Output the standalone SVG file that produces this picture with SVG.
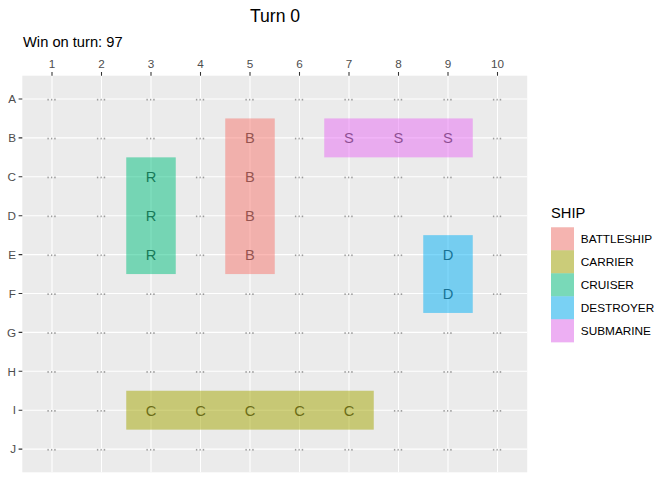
<svg xmlns="http://www.w3.org/2000/svg" xmlns:xlink="http://www.w3.org/1999/xlink" width="672" height="480" viewBox="0 0 672 480">
<style>
text{font-family:"Liberation Sans",Arial,sans-serif}
.grid{stroke:#FFFFFF;stroke-width:1.07;fill:none}
.tick{stroke:#333333;stroke-width:1.07}
.ax{font-size:11.7px;fill:#4D4D4D}
.ship{font-size:14.7px;fill:#333333;text-anchor:middle}
.tile{fill-opacity:0.5}
.lab{font-size:11.8px;fill:#000000}
.bs{fill:#F8766D}.ca{fill:#A3A500}.cr{fill:#00BF7D}.de{fill:#00B0F6}.su{fill:#E76BF3}
</style>
<defs>
<g id="dot" fill="#555555" fill-opacity="0.55">
<rect x="-4.6" y="-0.2" width="1.4" height="1.7"/>
<rect x="-1" y="-0.2" width="1.3" height="1.7"/>
<rect x="2.2" y="-0.2" width="1.5" height="1.7"/>
</g>
<g id="fullrow">
<use xlink:href="#dot" x="52"/><use xlink:href="#dot" x="101.5"/><use xlink:href="#dot" x="151"/><use xlink:href="#dot" x="200.5"/><use xlink:href="#dot" x="250"/><use xlink:href="#dot" x="299.5"/><use xlink:href="#dot" x="349"/><use xlink:href="#dot" x="398.5"/><use xlink:href="#dot" x="448"/><use xlink:href="#dot" x="497.5"/>
</g>
</defs>
<rect width="672" height="480" fill="#FFFFFF"/>
<text x="275" y="21.7" font-size="17.6" text-anchor="middle" fill="#000000">Turn 0</text>
<text x="23" y="46.7" font-size="14.7" fill="#000000">Win on turn: 97</text>
<g id="panel">
<rect x="22.3" y="75.7" width="504.9" height="396.6" fill="#EBEBEB"/>
<g class="grid">
<path d="M52 75.7V472.3M101.5 75.7V472.3M151 75.7V472.3M200.5 75.7V472.3M250 75.7V472.3M299.5 75.7V472.3M349 75.7V472.3M398.5 75.7V472.3M448 75.7V472.3M497.5 75.7V472.3"/>
<path d="M22.3 99H527.2M22.3 137.9H527.2M22.3 176.8H527.2M22.3 215.7H527.2M22.3 254.6H527.2M22.3 293.5H527.2M22.3 332.4H527.2M22.3 371.3H527.2M22.3 410.2H527.2M22.3 449.1H527.2"/>
</g>
</g>
<g id="empty-cells">
<use xlink:href="#fullrow" y="99"/>
<g transform="translate(0,137.9)"><use xlink:href="#dot" x="52"/><use xlink:href="#dot" x="101.5"/><use xlink:href="#dot" x="151"/><use xlink:href="#dot" x="200.5"/><use xlink:href="#dot" x="299.5"/><use xlink:href="#dot" x="497.5"/></g>
<g transform="translate(0,176.8)"><use xlink:href="#dot" x="52"/><use xlink:href="#dot" x="101.5"/><use xlink:href="#dot" x="200.5"/><use xlink:href="#dot" x="299.5"/><use xlink:href="#dot" x="349"/><use xlink:href="#dot" x="398.5"/><use xlink:href="#dot" x="448"/><use xlink:href="#dot" x="497.5"/></g>
<g transform="translate(0,215.7)"><use xlink:href="#dot" x="52"/><use xlink:href="#dot" x="101.5"/><use xlink:href="#dot" x="200.5"/><use xlink:href="#dot" x="299.5"/><use xlink:href="#dot" x="349"/><use xlink:href="#dot" x="398.5"/><use xlink:href="#dot" x="448"/><use xlink:href="#dot" x="497.5"/></g>
<g transform="translate(0,254.6)"><use xlink:href="#dot" x="52"/><use xlink:href="#dot" x="101.5"/><use xlink:href="#dot" x="200.5"/><use xlink:href="#dot" x="299.5"/><use xlink:href="#dot" x="349"/><use xlink:href="#dot" x="398.5"/><use xlink:href="#dot" x="497.5"/></g>
<g transform="translate(0,293.5)"><use xlink:href="#dot" x="52"/><use xlink:href="#dot" x="101.5"/><use xlink:href="#dot" x="151"/><use xlink:href="#dot" x="200.5"/><use xlink:href="#dot" x="250"/><use xlink:href="#dot" x="299.5"/><use xlink:href="#dot" x="349"/><use xlink:href="#dot" x="398.5"/><use xlink:href="#dot" x="497.5"/></g>
<use xlink:href="#fullrow" y="332.4"/>
<use xlink:href="#fullrow" y="371.3"/>
<g transform="translate(0,410.2)"><use xlink:href="#dot" x="52"/><use xlink:href="#dot" x="101.5"/><use xlink:href="#dot" x="398.5"/><use xlink:href="#dot" x="448"/><use xlink:href="#dot" x="497.5"/></g>
<use xlink:href="#fullrow" y="449.1"/>
</g>
<g id="battleship">
<text class="ship" x="250" y="143.2">B</text><text class="ship" x="250" y="182.1">B</text><text class="ship" x="250" y="221">B</text><text class="ship" x="250" y="259.9">B</text>
<rect class="tile bs" x="225.25" y="118.45" width="49.5" height="155.6"/>
</g>
<g id="cruiser">
<text class="ship" x="151" y="182.1">R</text><text class="ship" x="151" y="221">R</text><text class="ship" x="151" y="259.9">R</text>
<rect class="tile cr" x="126.25" y="157.35" width="49.5" height="116.7"/>
</g>
<g id="submarine">
<text class="ship" x="349" y="143.2">S</text><text class="ship" x="398.5" y="143.2">S</text><text class="ship" x="448" y="143.2">S</text>
<rect class="tile su" x="324.25" y="118.45" width="148.5" height="38.9"/>
</g>
<g id="destroyer">
<text class="ship" x="448" y="259.9">D</text><text class="ship" x="448" y="298.8">D</text>
<rect class="tile de" x="423.25" y="235.15" width="49.5" height="77.8"/>
</g>
<g id="carrier">
<text class="ship" x="151" y="415.5">C</text><text class="ship" x="200.5" y="415.5">C</text><text class="ship" x="250" y="415.5">C</text><text class="ship" x="299.5" y="415.5">C</text><text class="ship" x="349" y="415.5">C</text>
<rect class="tile ca" x="126.25" y="390.75" width="247.5" height="38.9"/>
</g>
<g id="axes">
<path class="tick" d="M52 72V75.7M101.5 72V75.7M151 72V75.7M200.5 72V75.7M250 72V75.7M299.5 72V75.7M349 72V75.7M398.5 72V75.7M448 72V75.7M497.5 72V75.7"/>
<path class="tick" d="M18.6 99H22.3M18.6 137.9H22.3M18.6 176.8H22.3M18.6 215.7H22.3M18.6 254.6H22.3M18.6 293.5H22.3M18.6 332.4H22.3M18.6 371.3H22.3M18.6 410.2H22.3M18.6 449.1H22.3"/>
<g class="ax" text-anchor="middle">
<text x="52" y="68.3">1</text><text x="101.5" y="68.3">2</text><text x="151" y="68.3">3</text><text x="200.5" y="68.3">4</text><text x="250" y="68.3">5</text><text x="299.5" y="68.3">6</text><text x="349" y="68.3">7</text><text x="398.5" y="68.3">8</text><text x="448" y="68.3">9</text><text x="497.5" y="68.3">10</text>
</g>
<g class="ax" text-anchor="end">
<text x="16" y="103.2">A</text><text x="16" y="142.1">B</text><text x="16" y="181">C</text><text x="16" y="219.9">D</text><text x="16" y="258.8">E</text><text x="16" y="297.7">F</text><text x="16" y="336.6">G</text><text x="16" y="375.5">H</text><text x="16" y="414.4">I</text><text x="16" y="453.3">J</text>
</g>
</g>
<g id="legend">
<text x="551" y="217.7" font-size="14.7" fill="#000000">SHIP</text>
<rect x="551" y="227.3" width="23" height="115" fill="#F2F2F2"/>
<rect class="tile bs" x="551" y="227.3" width="23" height="23"/>
<rect class="tile ca" x="551" y="250.3" width="23" height="23"/>
<rect class="tile cr" x="551" y="273.3" width="23" height="23"/>
<rect class="tile de" x="551" y="296.3" width="23" height="23"/>
<rect class="tile su" x="551" y="319.3" width="23" height="23"/>
<text class="lab" x="580.8" y="243">BATTLESHIP</text>
<text class="lab" x="580.8" y="266">CARRIER</text>
<text class="lab" x="580.8" y="289">CRUISER</text>
<text class="lab" x="580.8" y="312">DESTROYER</text>
<text class="lab" x="580.8" y="335">SUBMARINE</text>
</g>
</svg>
